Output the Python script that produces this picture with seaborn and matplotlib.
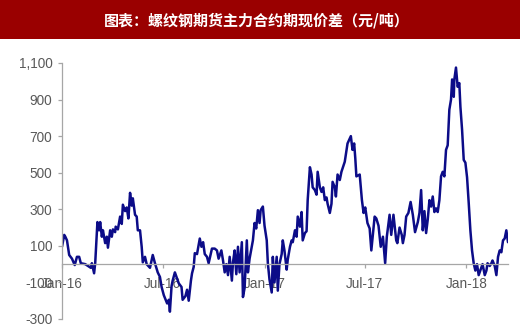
import matplotlib
matplotlib.use("Agg")
import matplotlib.pyplot as plt
import matplotlib.dates as mdates
import matplotlib.ticker as mticker
from matplotlib.patches import Rectangle
import pandas as pd
import seaborn as sns

title = "图表：螺纹钢期货主力合约期现价差（元/吨）"
start_date = "2016-01-01"
end_offset = 806

# days since 2016-01-01
day_offsets = [
    0, 4, 6, 9, 13, 18, 23, 27, 31, 34, 42, 47, 52, 54, 58, 60, 64, 67, 69, 72,
    74, 78, 81, 83, 87, 90, 92, 96, 97, 101, 105, 108, 110, 114, 117, 120, 123, 126, 128, 132,
    135, 137, 141, 144, 146, 150, 153, 159, 164, 168, 173, 177, 180, 184, 190, 193, 195, 198, 200, 204,
    207, 211, 216, 218, 223, 226, 229, 233, 235, 238, 240,
    244, 249, 252, 255, 258, 262, 265, 271, 276, 280, 283, 288, 291, 294, 297, 300, 303, 307, 309, 312,
    315, 318, 321, 325, 327, 330, 334, 336, 339, 343, 345, 348, 351, 354, 357, 359, 363, 366, 370, 372,
    375, 379, 381, 384, 388, 390, 393, 397, 399, 402, 406, 408, 412, 415, 417, 421, 424, 426, 430, 433,
    435, 439, 442, 444, 448, 451, 453, 457, 460, 462,
    466, 469, 472, 475, 478, 480, 484, 487, 489, 493, 495, 498, 502, 505, 511, 516, 522, 525, 528, 530,
    532, 538, 542, 545, 548, 552, 556, 559, 562, 565, 568, 572, 576, 580, 584, 587, 592, 595, 599, 604,
    606, 610, 614, 616, 619, 622, 626, 630, 634, 638, 643,
    646, 649, 652, 655, 658, 661, 664, 667, 670, 673, 676, 679, 682, 685, 688, 691, 694, 697, 700, 703,
    705, 708, 709, 712, 715, 718, 720, 723, 726, 729, 732, 735, 738, 741, 744, 747, 750, 753, 757, 760,
    764, 767, 769, 773, 776, 778, 782, 785, 788, 791, 794, 797, 800, 803, 806,
]

# futures main contract basis (yuan/ton)
spread = [
    95, 160, 150, 130, 50, 30, -5, 40, 40, 5, 0, -10, -20, 5, -50, 5, 230, 185, 230, 150,
    185, 115, 150, 90, 185, 150, 190, 175, 205, 190, 260, 220, 325, 290, 310, 250, 390, 320, 360, 270,
    260, 185, 185, 95, 10, 40, 0, -20, 50, 5, -45, -70, -125, -170, -215, -195, -260, -120, -90, -45,
    -70, -105, -125, -195, -175, -140, -200, -90, -50, -15, 60,
    55, 140, 95, 120, 55, 40, 5, 85, 85, 75, 30, 75, 20, -45, 0, -60, 40, -90, 10, 75,
    -55, 95, -45, 120, -180, -130, 130, -45, 30, 95, 130, 225, 195, 295, 225, 295, 315, 210, 130, 5,
    -85, -155, 40, -100, 40, -145, 0, 55, 130, 75, -30, 25, 95, 130, 120, 185, 150, 260, 205, 285,
    130, 170, 180, 350, 530, 490, 420, 405, 380, 505,
    420, 395, 420, 350, 365, 330, 280, 330, 450, 420, 370, 490, 460, 505, 560, 660, 700, 625, 660, 580,
    480, 490, 350, 280, 310, 225, 195, 75, 170, 260, 250, 210, 95, 150, 5, 150, 270, 160, 270, 130,
    115, 200, 160, 115, 160, 260, 280, 340, 270, 175, 230,
    280, 405, 185, 290, 170, 245, 350, 315, 370, 285, 305, 285, 350, 480, 505, 480, 625, 650, 845, 900,
    1010, 915, 1010, 1075, 970, 990, 860, 735, 570, 555, 475, 335, 185, 75, 5, -35, 0, -60, -25, 0,
    -60, -35, 5, -10, 5, 20, -10, -60, 40, 75, 65, 130, 140, 185, 120,
]

y_ticks = [-300, -100, 100, 300, 500, 700, 900, 1100]

sns.set_theme(style="white")
plt.rcParams["font.family"] = ["Liberation Sans", "DejaVu Sans"]

dates = pd.Timestamp(start_date) + pd.to_timedelta(day_offsets, unit="D")
df = pd.DataFrame({"date": dates, "spread": spread})

W, H = 520, 334
fig = plt.figure(figsize=(W / 100, H / 100), dpi=100)
fig.add_artist(Rectangle((0, 1 - 39 / H), 1, 39 / H, transform=fig.transFigure,
                         facecolor="#9A0000", edgecolor="none", zorder=0))
fig.text(257 / W, 1 - 21 / H, title, ha="center", va="center", color="white",
         fontsize=10.8, fontweight="bold",
         family=["Noto Sans CJK SC", "DejaVu Sans"])

ax = fig.add_axes([62 / W, 15 / H, 446 / W, 256 / H])
sns.lineplot(data=df, x="date", y="spread", ax=ax, color="#0C0C88",
             linewidth=1.8, estimator=None)

ax.set_ylim(-300, 1100)
ax.set_xlim(pd.Timestamp(start_date), pd.Timestamp(start_date) + pd.Timedelta(days=end_offset))
ax.set_yticks(y_ticks)
ax.yaxis.set_major_formatter(mticker.FuncFormatter(lambda v, p: f"{int(v):,}"))
ax.xaxis.set_major_locator(mdates.MonthLocator(bymonth=[1, 7]))
ax.xaxis.set_major_formatter(mdates.DateFormatter("%b-%y"))
ax.set_xlabel("")
ax.set_ylabel("")
ax.grid(False)

gray = "#A6A6A6"
for s in ["top", "right"]:
    ax.spines[s].set_visible(False)
ax.spines["left"].set_color(gray)
ax.spines["left"].set_linewidth(0.9)
ax.spines["bottom"].set_color(gray)
ax.spines["bottom"].set_linewidth(0.9)
ax.spines["bottom"].set_position(("data", 0))

ax.tick_params(axis="y", which="major", direction="out", length=3, width=0.9,
               color=gray, labelcolor="#595959", labelsize=9.8, pad=4, left=True)
ax.tick_params(axis="x", which="major", direction="out", length=3, width=0.9,
               color=gray, labelcolor="#595959", labelsize=9.8, pad=6, bottom=True)
ax.patch.set_alpha(0)

fig.savefig("out.png", dpi=100)
